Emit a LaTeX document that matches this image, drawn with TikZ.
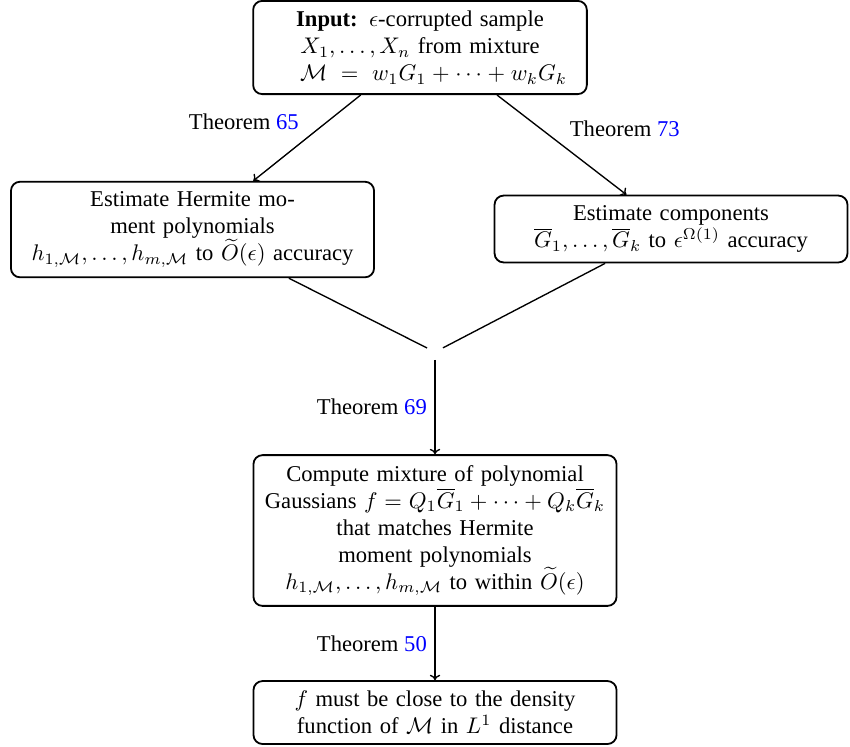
\documentclass[tikz,border=0pt]{standalone}
\usepackage{amsmath,amssymb}
\usepackage[no-math]{fontspec}
\setmainfont{Liberation Serif}
\usetikzlibrary{calc,arrows.meta}
\begin{document}
\begin{tikzpicture}[x=0.4425pt,y=-0.4425pt,
  box/.style={draw,rounded corners=4pt,line width=0.8pt,align=center,inner xsep=3.33pt,inner ysep=4.4pt},
  conn/.style={line width=0.6pt},
  arr/.style={conn,-{To[length=2.4pt,width=4.6pt]}}]
\useasboundingbox (0,0) rectangle (850,746);
\node[box,text width=141pt] (top) at (420,47.5)
  {\textbf{Input:} $\epsilon$-corrupted sample\\
   $X_1,\dots,X_n$ from mixture\\
   \hspace*{12pt}$\mathcal{M}\:=\:w_1G_1+\cdots+w_kG_k$};
\node[box,text width=154pt] (left) at (192.5,229.5)
  {Estimate Hermite mo-\\ment polynomials\\
   $h_{1,\mathcal{M}},\dots,h_{m,\mathcal{M}}$ to $\widetilde{O}(\epsilon)$ accuracy};
\node[box,text width=149.5pt] (right) at (671,229)
  {Estimate components\\
   $\overline{G}_1,\dots,\overline{G}_k$ to $\epsilon^{\Omega(1)}$ accuracy};
\node[inner sep=3.33pt] (j) at (435,352) {};
\node[box,text width=154pt] (mid) at (435,530.5)
  {Compute mixture of polynomial\\
   Gaussians $f=Q_1\overline{G}_1+\cdots+Q_k\overline{G}_k$\\
   that matches Hermite\\
   moment polynomials\\
   $h_{1,\mathcal{M}},\dots,h_{m,\mathcal{M}}$ to within $\widetilde{O}(\epsilon)$};
\node[box,text width=154pt] (bot) at (435,712.5)
  {$f$ must be close to the density\\
   function of $\mathcal{M}$ in $L^1$ distance};
\draw[arr] (top) -- node[midway,above left] {Theorem \textcolor{blue}{65}} (left);
\draw[arr] ($(top.south)+(77,0)$) -- node[midway,above right] {Theorem \textcolor{blue}{73}} (right);
\draw[conn] (left) -- (j);
\draw[conn] (right) -- (j);
\draw[arr] (j) -- node[midway,left] {Theorem \textcolor{blue}{69}} (mid);
\draw[arr] (mid) -- node[midway,left] {Theorem \textcolor{blue}{50}} (bot);
\end{tikzpicture}
\end{document}
